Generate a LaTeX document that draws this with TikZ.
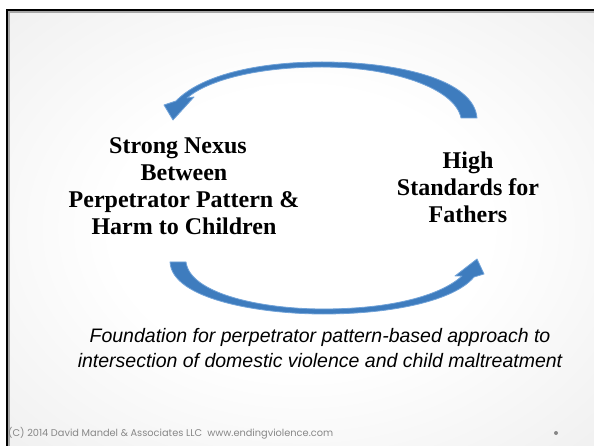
\documentclass[tikz,border=0pt]{standalone}
\usepackage{xcolor}
\usepackage{fontspec}
\usepackage{tikz}
\setmainfont{Liberation Serif}
\newfontfamily\captionfont{Liberation Sans}
\newfontfamily\footfont{Poppins}

\definecolor{arrowblue}{RGB}{62,124,190}
\definecolor{arrowedge}{RGB}{112,162,216}
\definecolor{footgray}{RGB}{135,135,135}

\pgfdeclareradialshading{slideglow}{\pgfpoint{0bp}{0bp}}{color(0bp)=(white); color(16bp)=(white); color(50bp)=(black!10); color(72bp)=(black!19)}

\tikzset{
  cyclearrow/.style={fill=arrowblue, draw=arrowedge, line width=0.8pt, line join=round},
  boldbox/.style={draw=none, align=center, font=\fontsize{24}{27}\selectfont\bfseries},
  italicbox/.style={draw=none, align=center, font=\captionfont\fontsize{19.5}{25}\selectfont\itshape},
  footbox/.style={draw=none, anchor=west, inner sep=0pt, text=footgray, font=\footfont\fontsize{9.8}{12}\selectfont}
}

\begin{document}
\begin{tikzpicture}[x=1pt, y=-1pt]
             \useasboundingbox (0,0) rectangle (594,446);
             \fill[white] (0,0) rectangle (594,446);
             \shade[shading=slideglow] (7,10) rectangle (594,446);

             \draw[black!35, line width=1.2pt] (594,12) -- (9,12) -- (9,446);
             \draw[black, line width=2pt] (594,10) -- (7,10) -- (7,446);

             \node[boldbox] (nexus) at (184, 186) {Strong Nexus\hspace*{0.5em}\\ Between\\ Perpetrator Pattern \&\\ Harm to Children};
             \node[boldbox] (standards) at (468, 187) {High\\ Standards for\\ Fathers};

             \draw[cyclearrow] (477,118) .. controls (474,80) and (400,62) .. (322,62)
                  .. controls (255,62) and (200,76) .. (176,101) -- (164,105) -- (173,120)
                  -- (194,97) -- (187,98) .. controls (208,80) and (258,67) .. (322,67)
                  .. controls (392,67) and (455,88) .. (461,118) -- cycle;
             \draw[cyclearrow] (170,262) .. controls (172,300) and (262,314) .. (323,314)
                  .. controls (395,314) and (455,300) .. (474,277) -- (484,274) -- (477,259)
                  -- (455,276) -- (462,276) .. controls (440,296) and (390,309) .. (323,309)
                  .. controls (262,309) and (190,294) .. (186,262) -- cycle;

             \node[italicbox] (foundation) at (320, 348) {Foundation for perpetrator pattern-based approach to\\ intersection of domestic violence and child maltreatment};

             \node[footbox] (copyright) at (8, 433) {(C) 2014 David Mandel \& Associates LLC\ \ www.endingviolence.com};
             \fill[footgray] (556, 433) circle (2) node[draw=none] (pagedot) {};
\end{tikzpicture}
\end{document}
